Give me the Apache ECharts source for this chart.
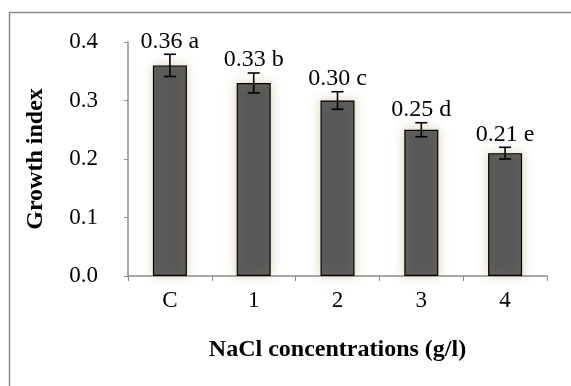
<!DOCTYPE html>
<html>
<head>
<meta charset="utf-8">
<script src="https://cdn.jsdelivr.net/npm/echarts@6/dist/echarts.min.js"></script>
<style>
  html, body { margin: 0; padding: 0; background: #fff; }
  #chart { width: 571px; height: 386px; }
</style>
</head>
<body>
<div id="chart"></div>
<script>
  const categories = ['C', '1', '2', '3', '4'];
  const growth = [0.36, 0.33, 0.30, 0.25, 0.21];
  const errors = [0.019, 0.017, 0.015, 0.012, 0.010];
  const letters = ['a', 'b', 'c', 'd', 'e'];

  const chart = echarts.init(document.getElementById('chart'));
  const font = '"Liberation Serif", "Times New Roman", serif';
  const axisGray = '#8c8c8c';

  const errData = categories.map((c, i) => [i, growth[i] - errors[i], growth[i] + errors[i], growth[i]]);

  const option = {
    animation: false,
    backgroundColor: '#fff',
    graphic: [{
      type: 'rect',
      shape: { x: 9.5, y: 12.5, width: 600, height: 400 },
      style: { fill: 'none', stroke: '#8c8c8c', lineWidth: 1.5 },
      silent: true
    }],
    grid: { left: 128, right: 24, top: 42, bottom: 110 },
    xAxis: {
      type: 'category',
      data: categories,
      name: 'NaCl concentrations (g/l)',
      nameLocation: 'middle',
      nameGap: 62,
      nameTextStyle: { fontFamily: font, fontWeight: 'bold', fontSize: 24, color: '#000' },
      axisLine: { lineStyle: { color: axisGray, width: 1.5 } },
      axisTick: { show: true, length: 5, lineStyle: { color: axisGray } },
      axisLabel: { fontFamily: font, fontSize: 23, color: '#000', margin: 13 }
    },
    yAxis: {
      type: 'value',
      min: 0,
      max: 0.4,
      interval: 0.1,
      name: 'Growth index',
      nameLocation: 'middle',
      nameGap: 80,
      nameTextStyle: { fontFamily: font, fontWeight: 'bold', fontSize: 24, color: '#000' },
      axisLine: { show: true, lineStyle: { color: axisGray, width: 1.5 } },
      axisTick: { show: true, length: 4, lineStyle: { color: axisGray } },
      splitLine: { show: false },
      axisLabel: {
        fontFamily: font, fontSize: 23, color: '#000', margin: 30,
        formatter: v => v.toFixed(1)
      }
    },
    series: [
      {
        type: 'bar',
        data: growth,
        barWidth: 34,
        itemStyle: {
          color: '#595959',
          borderColor: '#000',
          borderWidth: 1.2,
          shadowColor: 'rgba(190, 170, 120, 0.5)',
          shadowBlur: 10
        }
      },
      {
        type: 'custom',
        data: errData,
        z: 10,
        renderItem: (params, api) => {
          const x = api.coord([api.value(0), 0])[0];
          const lo = api.coord([api.value(0), api.value(1)])[1];
          const hi = api.coord([api.value(0), api.value(2)])[1];
          const i = params.dataIndex;
          const hw = 6;
          const st = { stroke: '#000', lineWidth: 1.6 };
          return {
            type: 'group',
            children: [
              { type: 'line', shape: { x1: x, y1: lo, x2: x, y2: hi }, style: st },
              { type: 'line', shape: { x1: x - hw, y1: lo, x2: x + hw, y2: lo }, style: st },
              { type: 'line', shape: { x1: x - hw, y1: hi, x2: x + hw, y2: hi }, style: st },
              {
                type: 'text',
                x: x,
                y: hi - 1,
                style: {
                  text: api.value(3).toFixed(2) + ' ' + letters[i],
                  fontFamily: font,
                  fontSize: 24,
                  fill: '#000',
                  align: 'center',
                  verticalAlign: 'bottom'
                }
              }
            ]
          };
        }
      }
    ]
  };

  chart.setOption(option);
</script>
</body>
</html>
